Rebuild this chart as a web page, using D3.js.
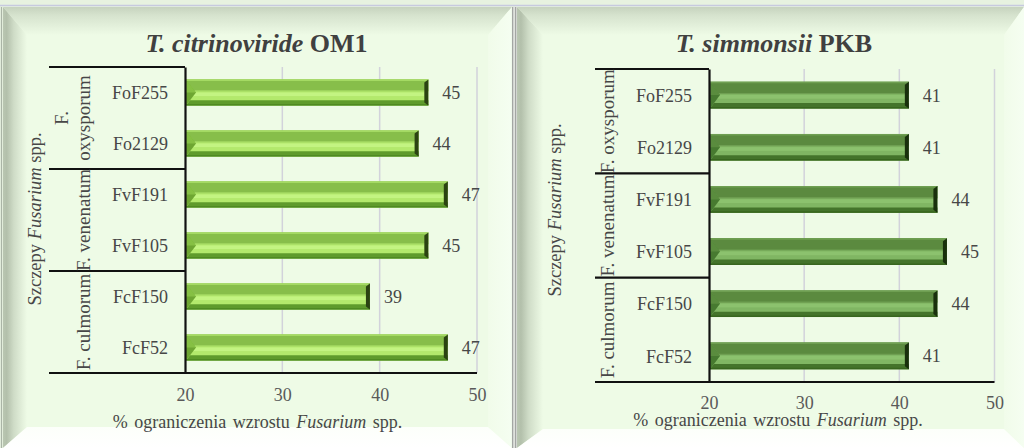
<!DOCTYPE html>
<html>
<head>
<meta charset="utf-8">
<script src="https://cdn.jsdelivr.net/npm/d3@7"></script>
<style>
  html, body { margin: 0; padding: 0; background: #eefbe6; }
  svg { display: block; }
  svg text { font-family: "Liberation Serif", "Times New Roman", serif; }
</style>
</head>
<body>
<svg id="chart" width="1024" height="448"></svg>
<script>
// Strains (categories), their species groups and the growth-inhibition values
const categories = ["FoF255", "Fo2129", "FvF191", "FvF105", "FcF150", "FcF52"];
const groupNames = ["F. oxysporum", "F. venenatum", "F. culmorum"];
const groupOf = [0, 0, 1, 1, 2, 2];
const valuesOM1 = [45, 44, 47, 45, 39, 47];
const valuesPKB = [41, 41, 44, 45, 44, 41];
const xTicks = [20, 30, 40, 50];
const xDomain = [20, 50];

const SERIF = "Liberation Serif, Times New Roman, serif";
const TEXT = "#474747";
const svg = d3.select("#chart");
const defs = svg.append("defs");
const pts = a => a.map(p => p.join(",")).join(" ");

function gradient(id, x1, y1, x2, y2, stops) {
  const g = defs.append("linearGradient").attr("id", id)
    .attr("x1", x1).attr("y1", y1).attr("x2", x2).attr("y2", y2);
  stops.forEach(([o, c]) => g.append("stop").attr("offset", o).attr("stop-color", c));
}
gradient("bvTop", 0, 0, 0, 1, [[0, "#c6d3be"], [0.3, "#d6e3ce"], [1, "#eefbe6"]]);
gradient("bvLeft", 0, 0, 1, 0, [[0, "#b9c6b1"], [0.15, "#b3c0ab"], [0.45, "#cfdcc7"], [1, "#eefbe6"]]);
gradient("bvRight", 1, 0, 0, 0, [[0, "#f5fef1"], [1, "#f1fcea"]]);
gradient("bvBottom", 0, 1, 0, 0, [[0, "#ffffff"], [1, "#fcfffa"]]);

// page strip above the two panels
svg.append("rect").attr("x", 0).attr("y", 0).attr("width", 1024).attr("height", 448).attr("fill", "#e7f2e0");
svg.append("line").attr("x1", 0).attr("x2", 1024).attr("y1", 5.5).attr("y2", 5.5)
  .attr("stroke", "#c7cadf").attr("stroke-width", 1.6);

// bevelled panel frame
function frame(x0, y0, x1, y1, bl, bt, br, bb) {
  const g = svg.append("g");
  g.append("rect").attr("x", x0).attr("y", y0).attr("width", x1 - x0).attr("height", y1 - y0).attr("fill", "#eefbe6");
  g.append("polygon").attr("points", pts([[x0, y0], [x1, y0], [x1 - br, y0 + bt], [x0 + bl, y0 + bt]])).attr("fill", "url(#bvTop)");
  g.append("polygon").attr("points", pts([[x0, y0], [x0 + bl, y0 + bt], [x0 + bl, y1 - bb], [x0, y1]])).attr("fill", "url(#bvLeft)");
  g.append("polygon").attr("points", pts([[x1, y0], [x1, y1], [x1 - br, y1 - bb], [x1 - br, y0 + bt]])).attr("fill", "url(#bvRight)");
  g.append("polygon").attr("points", pts([[x0, y1], [x0 + bl, y1 - bb], [x1 - br, y1 - bb], [x1, y1]])).attr("fill", "url(#bvBottom)");
}
frame(3, 7, 512, 448, 24, 28, 24, 21);
frame(517, 7, 1024, 448, 26, 28, 20, 19);

// panel edges
svg.append("line").attr("x1", 1.5).attr("x2", 1.5).attr("y1", 7).attr("y2", 448).attr("stroke", "#aab4a6").attr("stroke-width", 1.2);
svg.append("rect").attr("x", 512).attr("y", 7).attr("width", 5).attr("height", 441).attr("fill", "#e2e4e0");
[512.6, 515.6].forEach(xx => svg.append("line").attr("x1", xx).attr("x2", xx).attr("y1", 7).attr("y2", 448)
  .attr("stroke", "#a3a6a3").attr("stroke-width", 1.3));

// bevelled bar shape
function drawBar(s, w, h, pal) {
  const l = 10, t = h * 0.44, bo = h * 0.2;
  const slope = l / (h / 2);
  s.append("rect").attr("width", w).attr("height", h).attr("fill", pal.center);
  s.append("rect").attr("x", l * 0.6).attr("y", t + 1.5).attr("width", Math.max(0, w - l)).attr("height", h * 0.14).attr("fill", pal.centerHi);
  s.append("polygon").attr("points", pts([[0, 0], [w, 0], [w, t], [slope * t, t]])).attr("fill", pal.top);
  s.append("polygon").attr("points", pts([[0, h], [w, h], [w, h - bo], [slope * bo, h - bo]])).attr("fill", pal.bottom);
  s.append("polygon").attr("points", pts([[0, 0], [l, h / 2], [0, h]])).attr("fill", pal.tri);
  s.append("polygon").attr("points", pts([[0, 0], [l, h / 2], [0, h / 2]])).attr("fill", pal.triHi);
  s.append("line").attr("x1", 0).attr("x2", w).attr("y1", 0.75).attr("y2", 0.75).attr("stroke", pal.rim).attr("stroke-width", 1.5);
  s.append("line").attr("x1", slope * t).attr("x2", w).attr("y1", t).attr("y2", t).attr("stroke", pal.rim).attr("stroke-width", 1.2);
  s.append("line").attr("x1", 0).attr("x2", w).attr("y1", h - 0.75).attr("y2", h - 0.75).attr("stroke", pal.bottomEdge).attr("stroke-width", 1.5);
  s.append("polygon").attr("points", pts([[w - 4, 3], [w, 0], [w, h], [w - 4, h - 3]])).attr("fill", pal.edge);
}

function vtext(g, cx, cy, parts, size, spacing) {
  const t = g.append("text").attr("transform", `translate(${cx},${cy}) rotate(-90)`)
    .attr("text-anchor", "middle").attr("dy", "0.35em").attr("font-family", SERIF)
    .attr("font-size", size).attr("fill", TEXT);
  if (spacing) t.attr("word-spacing", spacing);
  parts.forEach(p => t.append("tspan").text(p.t).attr("font-style", p.i ? "italic" : null));
}

function chart(opt) {
  const g = svg.append("g").attr("font-family", SERIF);
  const x = d3.scaleLinear(xDomain, [opt.x0, opt.x1]);
  const y = d3.scaleBand(categories, [opt.y0, opt.y1]).paddingInner(0.49).paddingOuter(0.245);
  const step = y.step(), bw = y.bandwidth();

  // vertical gridlines
  g.append("g").selectAll("line").data(xTicks.slice(1)).join("line")
    .attr("x1", d => x(d)).attr("x2", d => x(d)).attr("y1", opt.y0).attr("y2", opt.y1)
    .attr("stroke", "#d2d2db").attr("stroke-width", 1.5);

  // bars
  const data = categories.map((c, i) => ({ c, v: opt.values[i] }));
  g.append("g").selectAll("g").data(data).join("g")
    .attr("transform", d => `translate(${x(xDomain[0]) + 1},${y(d.c)})`)
    .each(function (d) { drawBar(d3.select(this), x(d.v) - x(xDomain[0]) - 1, bw, opt.pal); });

  // value labels
  g.append("g").selectAll("text").data(data).join("text")
    .attr("x", d => x(d.v) + 14).attr("y", d => y(d.c) + bw / 2).attr("dy", "0.36em")
    .attr("font-family", SERIF).attr("font-size", 18).attr("fill", TEXT).text(d => d.v);

  // x axis
  const ax = g.append("g").attr("transform", `translate(0,${opt.y1})`)
    .call(d3.axisBottom(x).tickValues(xTicks).tickSize(0).tickSizeOuter(0).tickPadding(opt.tickPad).tickFormat(d3.format("d")));
  ax.attr("font-family", SERIF).attr("font-size", 18);
  ax.select(".domain").remove();
  ax.selectAll("text").attr("font-family", SERIF).attr("font-size", 18).attr("fill", "#595959");

  // category axis
  const ay = g.append("g").attr("transform", `translate(${opt.x0},0)`)
    .call(d3.axisLeft(y).tickSize(0).tickSizeOuter(0).tickPadding(17));
  ay.attr("font-family", SERIF).attr("font-size", 18);
  ay.select(".domain").attr("stroke", "#111").attr("stroke-width", 2.2);
  ay.selectAll("text").attr("font-family", SERIF).attr("font-size", 18).attr("fill", TEXT).attr("dy", "0.37em");

  // group separators of the two-level category axis
  const bounds = [0, 2, 4].map(i => y(categories[i]) - (step - bw) / 2);
  g.append("g").selectAll("line").data(bounds).join("line")
    .attr("x1", opt.lx).attr("x2", opt.x0).attr("y1", d => d).attr("y2", d => d)
    .attr("stroke", "#111").attr("stroke-width", 2.2);
  g.append("line").attr("x1", opt.lx).attr("x2", opt.x1).attr("y1", opt.y1).attr("y2", opt.y1)
    .attr("stroke", "#111").attr("stroke-width", 2.2);

  // group labels
  groupNames.forEach((name, gi) => {
    const members = categories.filter((c, i) => groupOf[i] === gi);
    const cy = d3.mean(members, c => y(c) + bw / 2);
    if (opt.wrapGroups.includes(gi)) {
      const words = name.split(" ");
      words.forEach((w, k) => vtext(g, opt.wrapX[k], cy, [{ t: w }], 19));
    } else {
      vtext(g, opt.groupX, cy, [{ t: name }], 19);
    }
  });

  // axis titles
  vtext(g, opt.yTitle[0], opt.yTitle[1], [{ t: "Szczepy " }, { t: "Fusarium", i: true }, { t: " spp." }], 18.5);
  const xt = g.append("text").attr("x", opt.xTitle[0]).attr("y", opt.xTitle[1]).attr("text-anchor", "middle")
    .attr("font-family", SERIF).attr("font-size", 18).attr("word-spacing", 2).attr("fill", TEXT);
  xt.append("tspan").text("% ograniczenia wzrostu ");
  xt.append("tspan").attr("font-style", "italic").text("Fusarium");
  xt.append("tspan").text(" spp.");

  // chart title
  const tt = g.append("text").attr("x", opt.title[0]).attr("y", opt.title[1]).attr("text-anchor", "middle")
    .attr("font-family", SERIF).attr("font-size", 26).attr("font-weight", "bold").attr("fill", "#404040");
  tt.append("tspan").attr("font-style", "italic").text(opt.titleItalic);
  tt.append("tspan").text(opt.titleRest);
}

chart({
  values: valuesOM1, x0: 185, x1: 477, y0: 67, y1: 373, lx: 49, tickPad: 15,
  title: [256.5, 52], titleItalic: "T. citrinoviride ", titleRest: "OM1",
  xTitle: [257.5, 428], yTitle: [34.7, 219],
  groupX: 83, wrapGroups: [0], wrapX: [61.5, 83.5],
  pal: { center: "#b3e96c", centerHi: "#c3f482", top: "#87be4a", bottom: "#5f9b2c", tri: "#6ea632",
         triHi: "#86c044", rim: "#a4da63", bottomEdge: "#4f8a22", edge: "#2b4312" }
});

chart({
  values: valuesPKB, x0: 709, x1: 994.5, y0: 69, y1: 382, lx: 595, tickPad: 14.5,
  title: [774, 52], titleItalic: "T. simmonsii ", titleRest: "PKB",
  xTitle: [778, 425.5], yTitle: [555, 210],
  groupX: 607.5, wrapGroups: [], wrapX: [],
  pal: { center: "#80b663", centerHi: "#8cc26e", top: "#5b8a3f", bottom: "#44742b", tri: "#477a30",
         triHi: "#5a8c3e", rim: "#6f9f52", bottomEdge: "#38661f", edge: "#19300d" }
});
</script>
</body>
</html>
